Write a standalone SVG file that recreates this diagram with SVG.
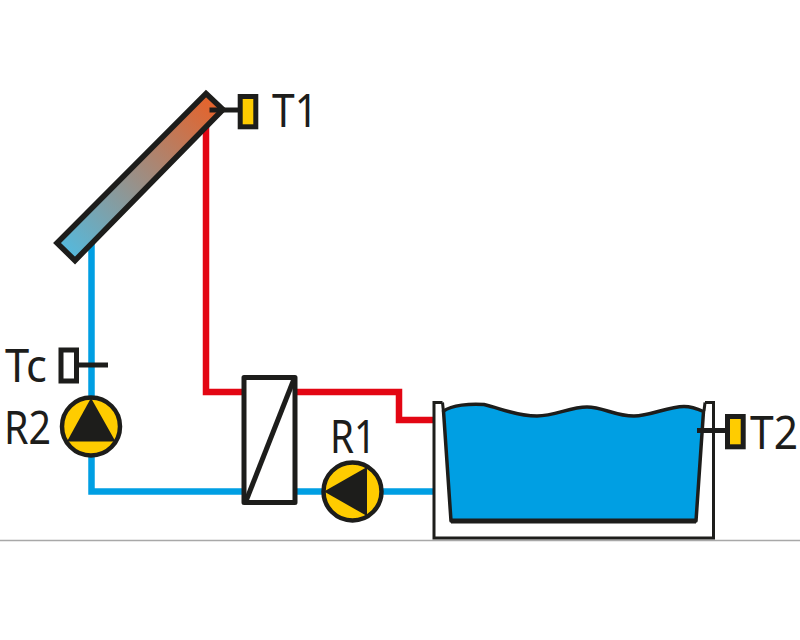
<svg xmlns="http://www.w3.org/2000/svg" width="800" height="640" viewBox="0 0 800 640">
<style>
.red{fill:none;stroke:#e30613;stroke-width:6.5}
.blue{fill:none;stroke:#009fe3;stroke-width:6.5}
.k{stroke:#1d1d1b;stroke-width:5}
.sensor{fill:#fc0;stroke:#1d1d1b;stroke-width:5}
.pump{fill:#fc0;stroke:#1d1d1b;stroke-width:4.5}
.tri{fill:#1d1d1b}
.lbl{font-family:"Noto Sans","Open Sans",sans-serif;font-size:45px;fill:#1d1d1b}
</style>
<defs>
<linearGradient id="g" gradientUnits="userSpaceOnUse" x1="65" y1="252" x2="214" y2="102">
<stop offset="0" stop-color="#55b9dc"/><stop offset="1" stop-color="#e5632b"/>
</linearGradient>
</defs>
<rect width="800" height="640" fill="#fff"/>
<line id="ground" x1="0" y1="540.500" x2="800" y2="540.500" stroke="#a8a8a8" stroke-width="1.500"/>
<g id="connectors">
<path class="red" d="M206 120V392H244M296 392H399V420H434"/>
<path class="blue" d="M91.500 240V491.500H244M296 491.500H434"/>
</g>
<g id="collector">
<path d="M206 93.500L223 109.500L75 260.500L57 243Z" fill="url(#g)" stroke="#1d1d1b" stroke-width="5.500" stroke-linejoin="miter"/>
</g>
<g id="sensor-T1">
<line class="k" x1="209.500" y1="110" x2="240" y2="110" stroke-width="4.500"/>
<rect class="sensor" x="240.200" y="96.500" width="15.600" height="30.300"/>
<text class="lbl" x="272" y="127" textLength="46" lengthAdjust="spacingAndGlyphs">T1</text>
</g>
<g id="sensor-Tc">
<rect x="61" y="350" width="15.500" height="31" fill="#fff" stroke="#1d1d1b" stroke-width="5"/>
<line class="k" x1="78" y1="365" x2="108" y2="365"/>
<text class="lbl" x="5" y="382" textLength="42" lengthAdjust="spacingAndGlyphs">Tc</text>
</g>
<g id="pump-R2">
<circle class="pump" cx="91" cy="426.500" r="29"/>
<polygon class="tri" points="91,398 115.500,441.500 67,441.500"/>
<text class="lbl" x="4" y="443.500" textLength="47" lengthAdjust="spacingAndGlyphs">R2</text>
</g>
<g id="heat-exchanger">
<rect x="244" y="377.500" width="51" height="125" fill="#fff" stroke="#1d1d1b" stroke-width="5" stroke-linejoin="round"/>
<line class="k" x1="294" y1="379" x2="246" y2="501"/>
</g>
<g id="pump-R1">
<circle class="pump" cx="352.500" cy="491.500" r="29"/>
<polygon class="tri" points="324,491.500 367,467 367,516"/>
<text class="lbl" x="330" y="453" textLength="46" lengthAdjust="spacingAndGlyphs">R1</text>
</g>
<g id="tank">
<path d="M442.500 402.500H434V538H713.500V402.500H705" fill="#fff" stroke="#1d1d1b" stroke-width="3"/>
<path d="M442.500 402.500L443.500 412" fill="none" stroke="#1d1d1b" stroke-width="3"/>
<path d="M704 411L705 402.500" fill="none" stroke="#1d1d1b" stroke-width="3"/>
<path d="M443.500 411C452 405 470 403.500 484 404.500C500 408 515 416 537 416C555 416 570 407 587 407C603 407 615 416 634 416C650 416 668 406.500 684 406.500C692 406.500 698 409 703.500 411.500L696 521H451Z" fill="#009fe3" stroke="#1d1d1b" stroke-width="3.500" stroke-linejoin="round"/>
<path d="M451 521H696" stroke="#1d1d1b" stroke-width="5" fill="none"/>
</g>
<g id="sensor-T2">
<line class="k" x1="697" y1="430.500" x2="727" y2="430.500" stroke-width="4.500"/>
<rect class="sensor" x="727.500" y="416.500" width="15.700" height="30.300"/>
<text class="lbl" x="750" y="448.500" textLength="48" lengthAdjust="spacingAndGlyphs">T2</text>
</g>
</svg>
